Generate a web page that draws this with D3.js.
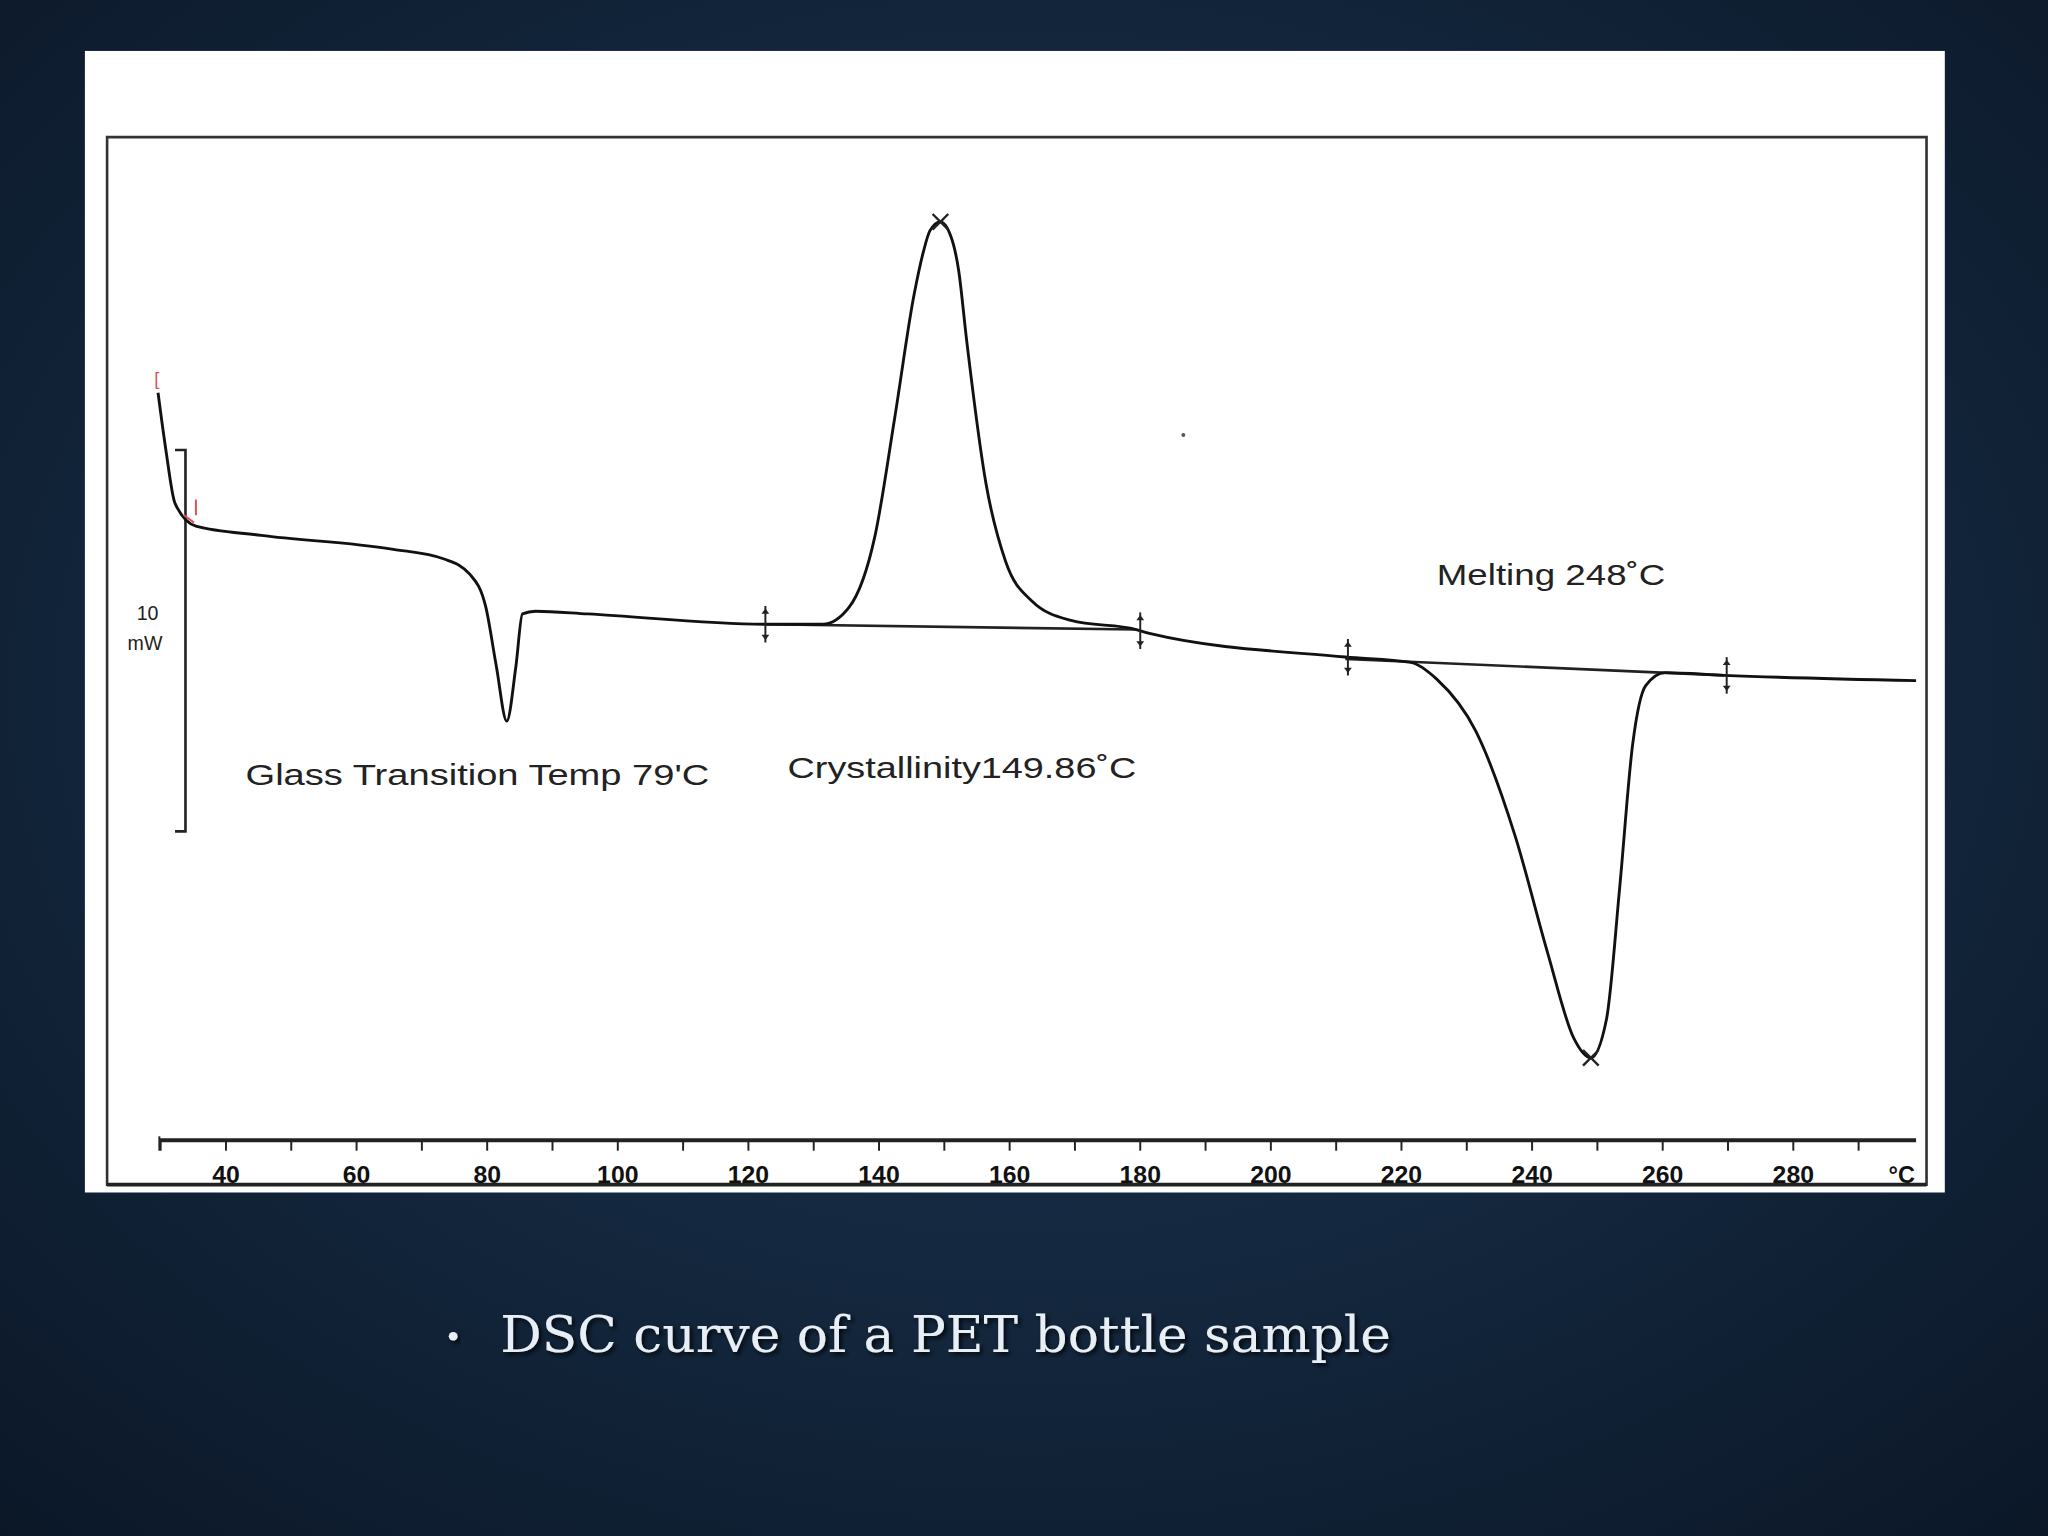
<!DOCTYPE html>
<html><head><meta charset="utf-8">
<script src="https://cdn.jsdelivr.net/npm/d3@7"></script>
<style>html,body{margin:0;padding:0;background:#0f1e30;overflow:hidden}</style>
</head><body>
<svg id="c" width="2048" height="1536" viewBox="0 0 1568 1176"></svg>
<script>
// Temperature (°C) and heat flow (mW, arbitrary offset)
const temps = [29.6,30.8,32.2,35.4,45.4,65.4,73.4,77.4,79.8,81.4,83,84.4,85.4,87.4,95.4,122.6,131.4,135.4,139.4,142.4,145.4,146.8,147.8,149.4,151.0,152.2,153.4,156.4,159.4,163.4,169.4,179.4,181.4,211.4,221.4,225.4,231.4,237.4,242.4,246.4,249,251.4,253.4,255.4,257.4,260.4,269.4,298.8];
const heatFlow = [19.6,18.1,16.7,16.1,15.86,15.5,15.24,14.83,13.97,12.43,10.99,12.43,13.8,13.87,13.8,13.53,13.53,13.97,15.86,18.94,22.2,23.3,23.85,24.08,23.7,22.8,21,17.2,15.17,14.14,13.63,13.39,13.29,12.67,12.53,12.09,10.72,7.98,4.9,2.67,2.16,3.18,6.6,10.38,11.92,12.26,12.19,12.05];
const tickLabels = [40,60,80,100,120,140,160,180,200,220,240,260,280];
const baselineT = [[122.6,179.4],[211.4,269.4]];
const baselineV = [[13.53,13.39],[12.62,12.19]];
const limitMarkers = [122.6,180,211.8,269.8];
const peakMarks = [[149.4,24.08],[249,2.16]];
const annotations = ["Glass Transition Temp 79'C","Crystallinity149.86˚C","Melting 248˚C"];

const svg = d3.select("#c");
const defs = svg.append("defs");
const g1 = defs.append("radialGradient").attr("id","bg").attr("cx","50%").attr("cy","45%").attr("r","75%");
g1.append("stop").attr("offset","0%").attr("stop-color","#1d3957");
g1.append("stop").attr("offset","100%").attr("stop-color","#0b1727");
const f = defs.append("filter").attr("id","sh");
f.append("feDropShadow").attr("dx",2).attr("dy",2).attr("stdDeviation",1.5).attr("flood-color","#000").attr("flood-opacity",0.8);
svg.append("rect").attr("width",1568).attr("height",1176).attr("fill","url(#bg)");
svg.append("rect").attr("x",65).attr("y",39).attr("width",1424).attr("height",874).attr("fill","#fff");
svg.append("path").attr("d","M82,907 V105 H1475 V907 Z").attr("fill","none").attr("stroke","#333").attr("stroke-width",2);
svg.append("line").attr("x1",82).attr("x2",1475).attr("y1",907).attr("y2",907).attr("stroke","#222").attr("stroke-width",3);

const x = d3.scaleLinear().domain([29.8,298.8]).range([122,1467]);
const y = d3.scaleLinear().domain([0,10]).range([873,581]);

const ax = svg.append("g").attr("transform","translate(0,873)");
ax.append("line").attr("x1",122).attr("x2",1467).attr("stroke","#222").attr("stroke-width",3);
const minor = d3.range(30,300,10);
ax.selectAll(".mt").data(minor).join("line").attr("x1",d=>x(d)).attr("x2",d=>x(d)).attr("y1",0).attr("y2",8).attr("stroke","#222").attr("stroke-width",1.5);
ax.append("line").attr("x1",122).attr("x2",122).attr("y1",-3).attr("y2",8).attr("stroke","#222").attr("stroke-width",1.5);
ax.selectAll(".tl").data(tickLabels).join("text").attr("x",d=>x(d)).attr("y",33).attr("text-anchor","middle")
  .attr("font-family","Liberation Sans Narrow, Liberation Sans, sans-serif").attr("font-size",19).attr("font-weight","bold").attr("fill","#111").text(d=>d);
ax.append("text").attr("x",1456).attr("y",33).attr("text-anchor","middle").attr("font-family","Liberation Sans Narrow, sans-serif").attr("font-size",18).attr("font-weight","bold").attr("fill","#111").text("°C");

svg.append("path").attr("d",`M134,${y(18.1)} H142 V${y(8.1)} H134`).attr("fill","none").attr("stroke","#222").attr("stroke-width",2);
svg.append("text").attr("x",113).attr("y",475).attr("text-anchor","middle").attr("font-family","Liberation Sans, sans-serif").attr("font-size",15).attr("fill","#222").text("10");
svg.append("text").attr("x",111).attr("y",498).attr("text-anchor","middle").attr("font-family","Liberation Sans, sans-serif").attr("font-size",15).attr("fill","#222").text("mW");

baselineT.forEach((b,i)=>{
  svg.append("line").attr("x1",x(b[0])).attr("x2",x(b[1])).attr("y1",y(baselineV[i][0])).attr("y2",y(baselineV[i][1])).attr("stroke","#222").attr("stroke-width",2);
});
const pts = temps.map((t,i)=>[t,heatFlow[i]]);
svg.append("path").attr("d",d3.line().x(d=>x(d[0])).y(d=>y(d[1])).curve(d3.curveMonotoneX)(pts))
  .attr("fill","none").attr("stroke","#111").attr("stroke-width",2.2);
svg.append("text").attr("x",x(29.4)).attr("y",y(19.8)).attr("font-family","Liberation Sans, sans-serif").attr("font-size",14).attr("fill","#e05050").attr("text-anchor","middle").text("[");
svg.append("path").attr("d",`M${x(33.5)},${y(16.4)} l8,6 M${x(35.4)},${y(16.8)} v12`).attr("stroke","#e05050").attr("stroke-width",1.5).attr("fill","none");
limitMarkers.forEach(t=>{
  const xi = x(t);
  const v = d3.scaleLinear().domain(temps).range(heatFlow)(t);
  const yi = y(v);
  svg.append("line").attr("x1",xi).attr("x2",xi).attr("y1",yi-14).attr("y2",yi+14).attr("stroke","#222").attr("stroke-width",1.5);
  svg.append("path").attr("d",`M${xi-3},${yi-8} l3,-4 l3,4 Z M${xi-3},${yi+8} l3,4 l3,-4 Z`).attr("fill","#222");
});
peakMarks.forEach(p=>{
  const px=x(p[0]), py=y(p[1]);
  svg.append("path").attr("d",`M${px-6},${py-6} L${px+6},${py+6} M${px-6},${py+6} L${px+6},${py-6}`).attr("stroke","#222").attr("stroke-width",1.8);
});
svg.append("circle").attr("cx",906).attr("cy",333).attr("r",1.5).attr("fill","#555");
const ap = [[188,601,355],[603,596,267],[1100,448,175]];
annotations.forEach((t,i)=>{
  svg.append("text").attr("x",ap[i][0]).attr("y",ap[i][1]).attr("textLength",ap[i][2]).attr("lengthAdjust","spacingAndGlyphs")
    .attr("font-family","Liberation Sans, Arial, sans-serif").attr("font-size",22).attr("fill","#222").text(t);
});
svg.append("text").attr("x",342).attr("y",1033).attr("font-family","Liberation Serif, serif").attr("font-size",28).attr("fill","#e8eef5").attr("filter","url(#sh)").text("•");
svg.append("text").attr("x",383).attr("y",1035).attr("textLength",682).attr("lengthAdjust","spacingAndGlyphs").attr("font-family","DejaVu Serif, serif").attr("font-size",38).attr("fill","#e8eef5").attr("filter","url(#sh)").text("DSC curve of a PET bottle sample");
</script>
</body></html>
